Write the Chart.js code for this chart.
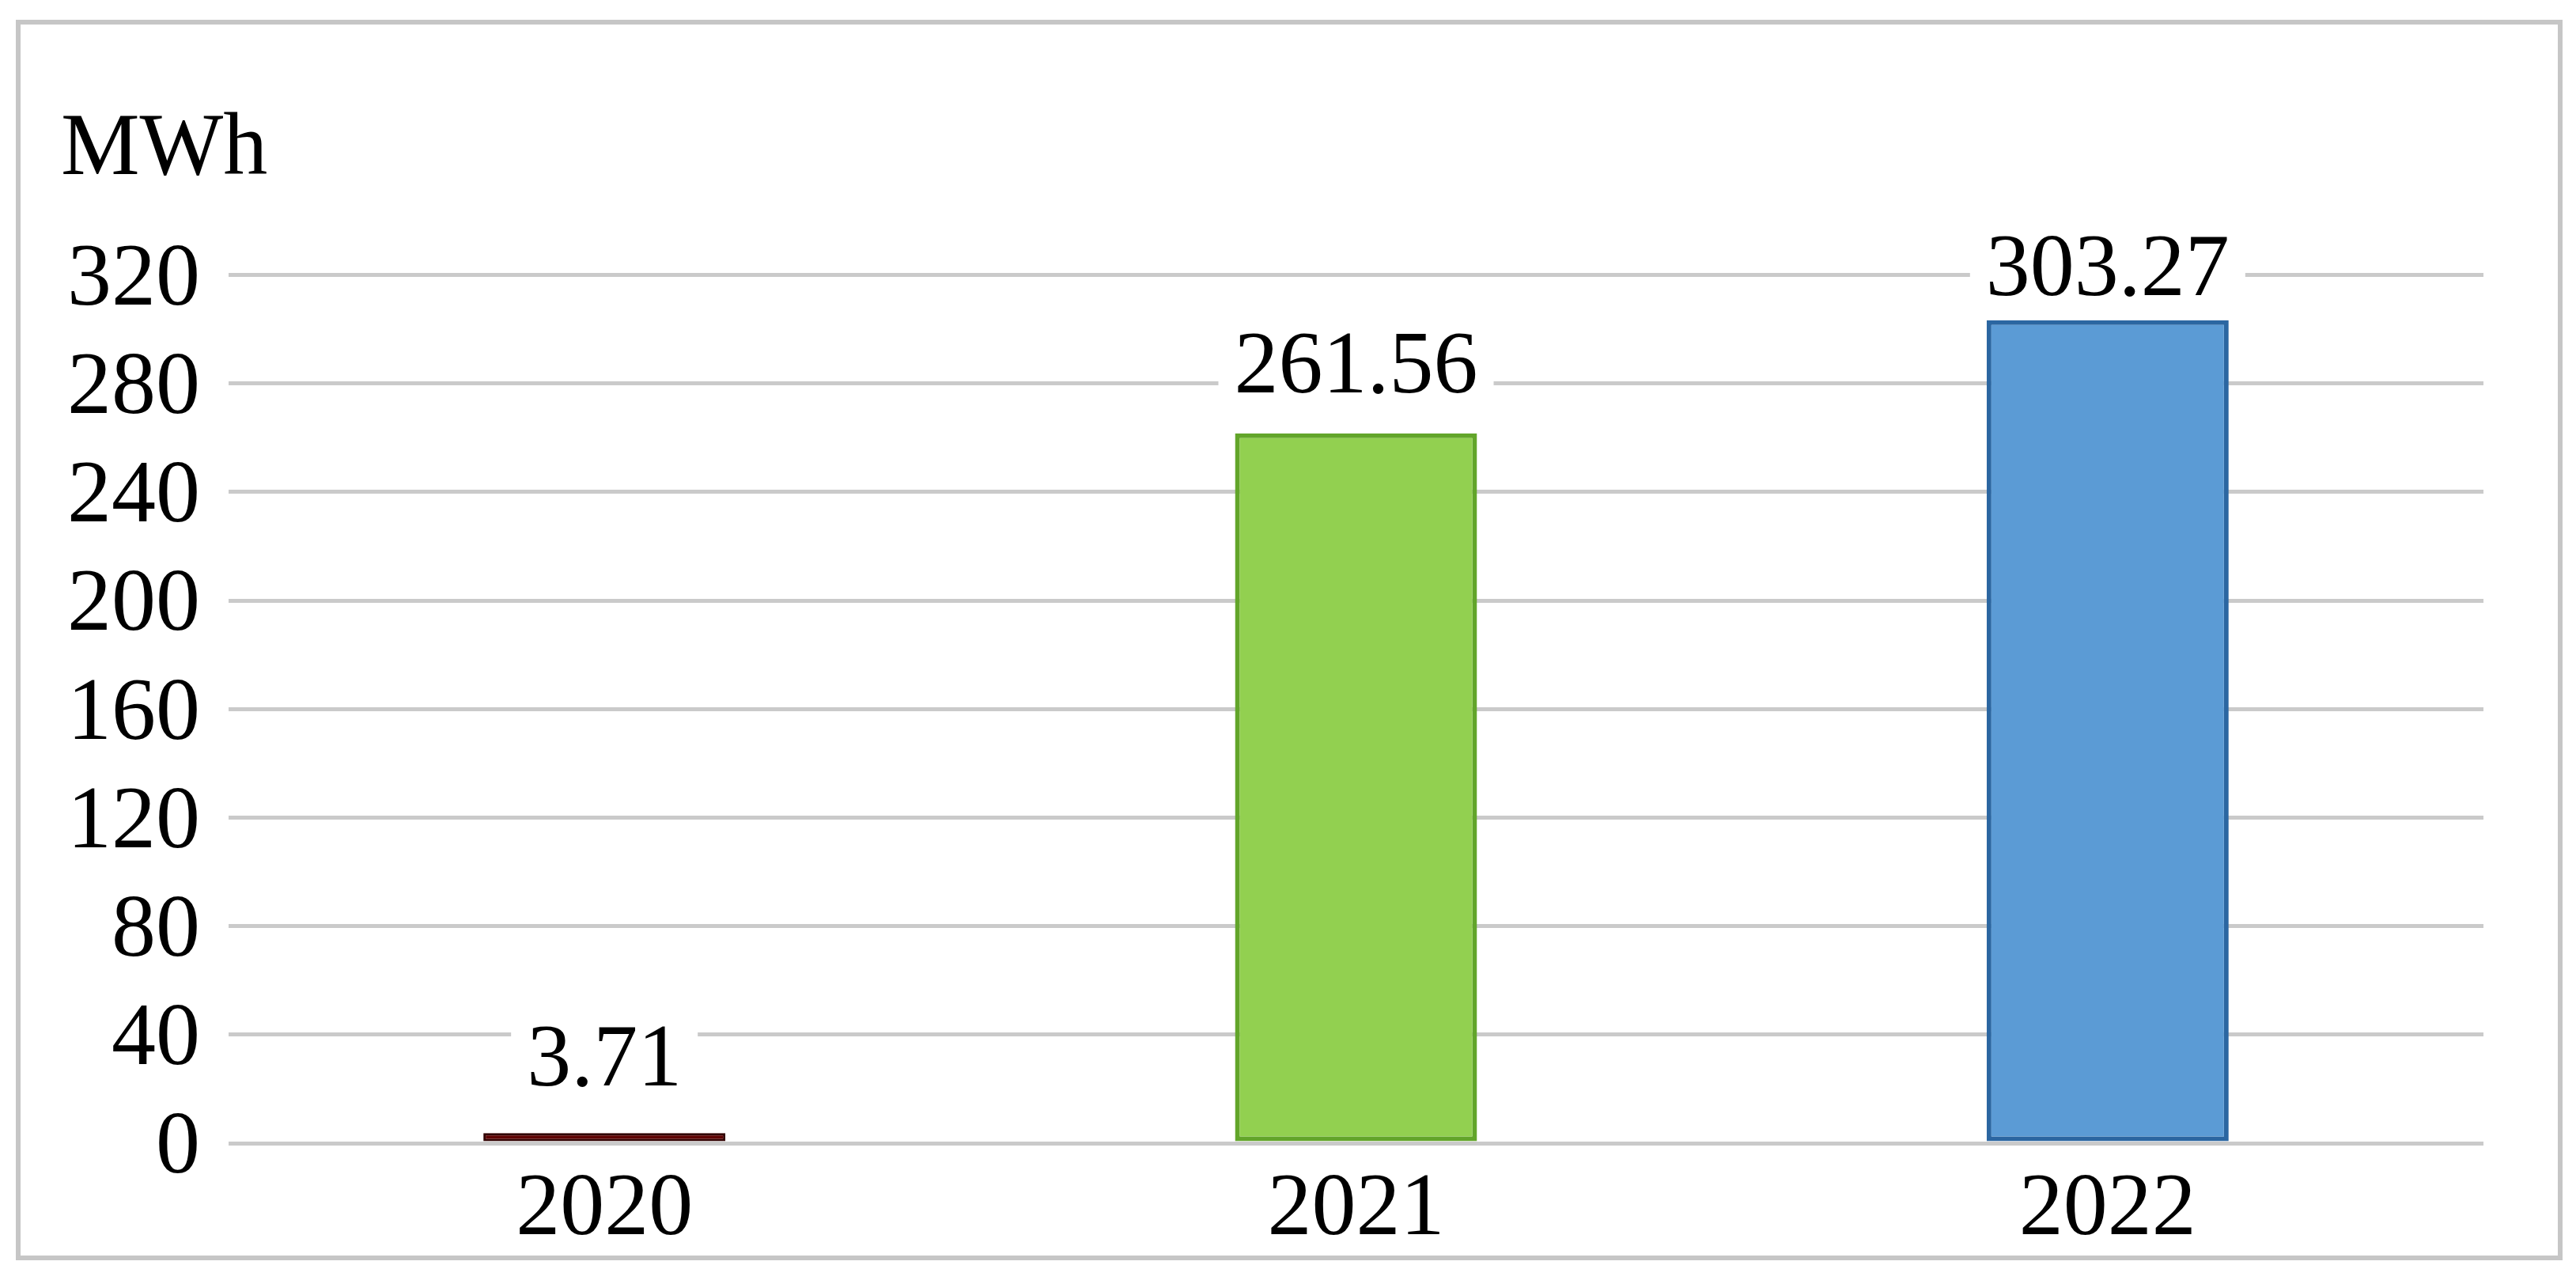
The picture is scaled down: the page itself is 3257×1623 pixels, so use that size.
<!DOCTYPE html>
<html><head><meta charset="utf-8">
<script src="https://cdn.jsdelivr.net/npm/chart.js@4.4.1/dist/chart.umd.min.js"></script>
<style>
html,body{margin:0;background:#fff}
#frame{position:absolute;left:20px;top:25px;width:3220px;height:1568px;border:6px solid #c6c6c6;box-sizing:border-box}
#c{position:absolute;left:0;top:0}
</style></head><body>
<div id="frame"></div>
<canvas id="c" width="3257" height="1623"></canvas>
<script>
// data
const years=['2020','2021','2022'];
const energy=[3.71,261.56,303.27];
const yTicks=[0,40,80,120,160,200,240,280,320];
const unit='MWh';

// styling
const barFill=['#5e0202','#92d050','#5b9bd5'];
const barLine=['#300000','#62a52a','#2b66a1'];
const barEdge=[3,6,6];
const labelGap=[60,52,32]; // distance bar top -> label baseline
const FAM='"Liberation Serif","Times New Roman",serif', SIZE=112;

const valueLabels={id:'valueLabels',afterDatasetsDraw(chart){
 const ctx=chart.ctx, bars=chart.getDatasetMeta(0).data;
 ctx.save(); ctx.font=SIZE+'px '+FAM; ctx.textAlign='center'; ctx.textBaseline='alphabetic';
 bars.forEach((b,i)=>{
   const t=energy[i].toFixed(2), w=ctx.measureText(t).width, y=b.y-labelGap[i];
   ctx.fillStyle='#fff'; ctx.fillRect(b.x-w/2-20,y-96,w+40,116);
   ctx.fillStyle='#000'; ctx.fillText(t,b.x,y);
 });
 ctx.restore();
}};

new Chart(document.getElementById('c'),{
 type:'bar',
 data:{labels:years,datasets:[{data:energy,backgroundColor:barFill,borderColor:barLine,borderWidth:barEdge,borderSkipped:false,barPercentage:0.322,categoryPercentage:1}]},
 options:{
  responsive:false,devicePixelRatio:1,animation:false,
  layout:{padding:{left:77,right:117,top:0,bottom:0}},
  plugins:{
   legend:{display:false},tooltip:{enabled:false},
   title:{display:true,text:unit,align:'start',color:'#000',font:{family:FAM,size:SIZE,weight:'normal'},padding:{top:123,bottom:90}}
  },
  scales:{
   x:{grid:{display:false},border:{display:false},
      ticks:{color:'#000',font:{family:FAM,size:SIZE},padding:10,maxRotation:0,autoSkip:false},
      afterFit:s=>{s.height=178}},
   y:{min:yTicks[0],max:yTicks[yTicks.length-1],
      grid:{color:'#cacaca',lineWidth:5,drawTicks:false},border:{display:false},
      ticks:{stepSize:yTicks[1]-yTicks[0],autoSkip:false,color:'#000',font:{family:FAM,size:SIZE},padding:36,labelOffset:8},
      afterFit:s=>{s.width=212}}
  }
 },
 plugins:[valueLabels]
});
</script>
</body></html>
